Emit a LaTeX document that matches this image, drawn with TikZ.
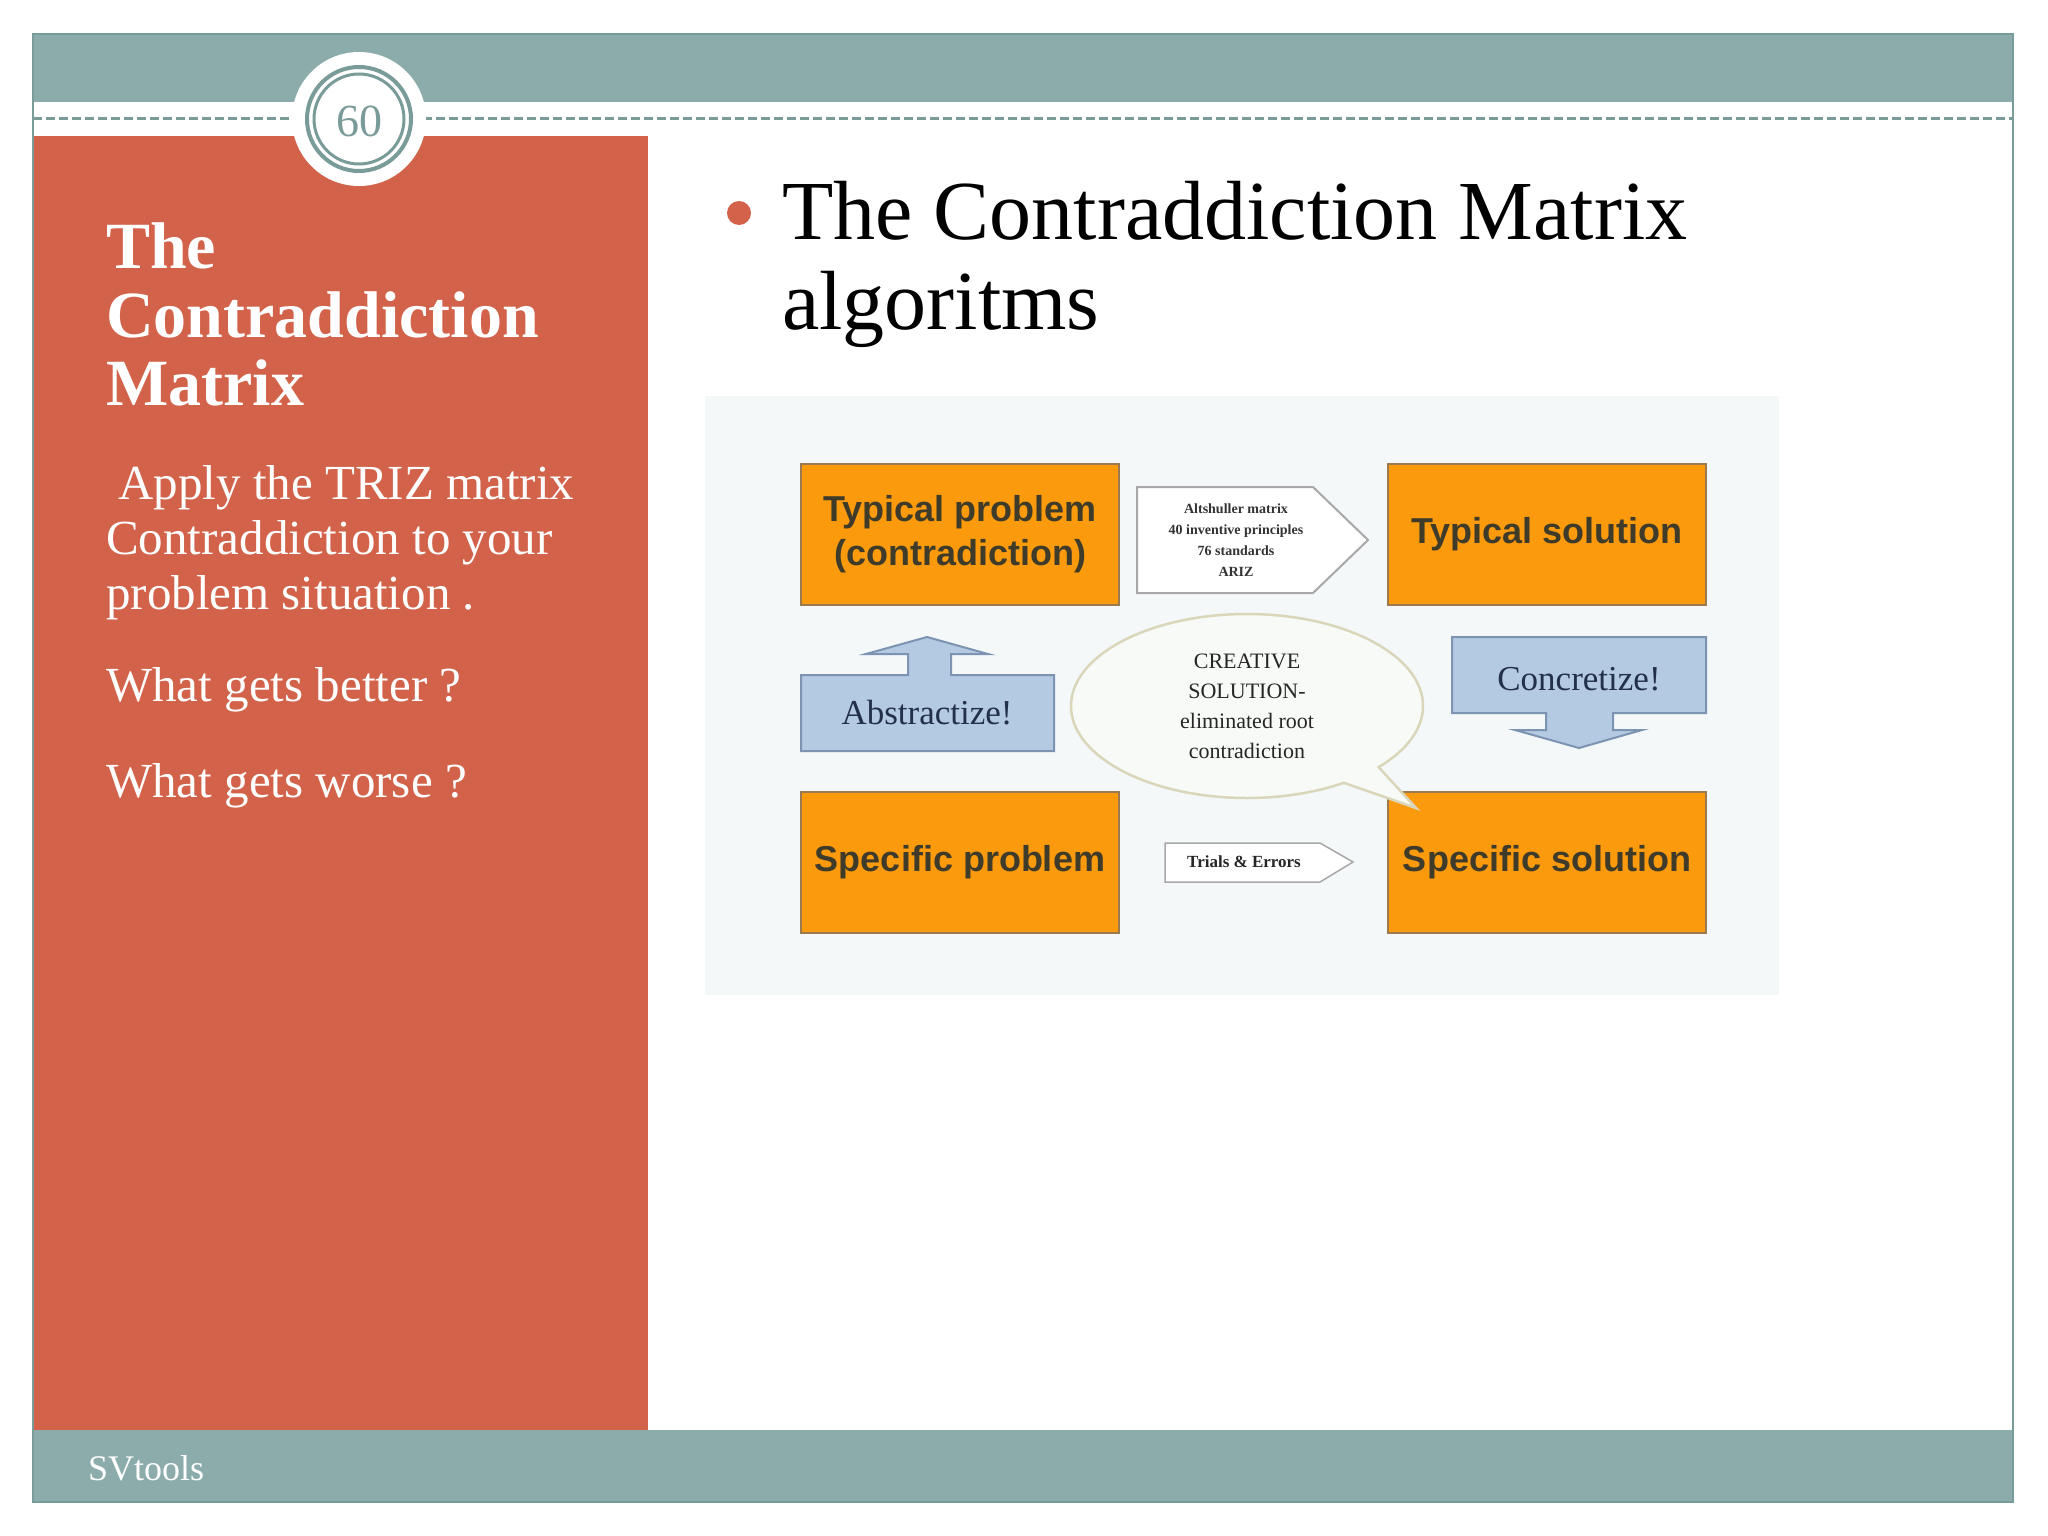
\documentclass[tikz,border=0pt]{standalone}
\usepackage{fontspec}
\setmainfont{Liberation Serif}
\newfontfamily\arialfont{Liberation Sans}
\usetikzlibrary{shapes.callouts,shapes.geometric}
\definecolor{teal1}{HTML}{8BACAA}
\definecolor{tealdark}{HTML}{7A9C99}
\definecolor{rust}{HTML}{D2634A}
\definecolor{orng}{HTML}{FB9A0C}
\definecolor{orngborder}{HTML}{9C7A50}
\definecolor{lblue}{HTML}{B4C9E2}
\definecolor{lblueborder}{HTML}{7C94B2}
\definecolor{diagbg}{HTML}{F4F8F9}
\definecolor{boxtext}{HTML}{3E3B2A}
\definecolor{navytext}{HTML}{22304A}
\definecolor{pentborder}{HTML}{A8A8A8}
\definecolor{ellborder}{HTML}{DAD6BA}
\definecolor{ellfill}{HTML}{F7FAF6}
\begin{document}
\begin{tikzpicture}[x=1pt,y=-1pt,
  obox/.style={draw=orngborder, fill=orng, line width=2, minimum width=318, minimum height=141,
    font=\arialfont\bfseries\fontsize{36}{44}\selectfont, text=boxtext, align=center, inner sep=0},
  lbshape/.style={draw=lblueborder, fill=lblue, line width=2},
  pent/.style={draw=pentborder, fill=white, line width=2},
  lefttxt/.style={anchor=base west, text=white, font=\fontsize{49}{55}\selectfont, inner sep=0},
  lefttitle/.style={anchor=base west, text=white, font=\bfseries\fontsize{66}{68}\selectfont, inner sep=0},
  headtxt/.style={anchor=base west, text=black, font=\fontsize{84}{90}\selectfont, inner sep=0}]
\useasboundingbox (0,0) rectangle (2048,1536);
\fill[white] (0,0) rectangle (2048,1536);

% frame bands
\fill[teal1] (33,34) rectangle (2013,102);
\fill[rust] (33,136) rectangle (648,1430);
\fill[teal1] (33,1430) rectangle (2013,1502);
\draw[tealdark, line width=1.5] (33,34) rectangle (2013,1502);
\draw[tealdark, line width=3, dash pattern=on 9 off 4] (33,119) -- (2013,119);

% page number badge
\fill[white] (359,119) circle (67);
\draw[tealdark, line width=4] (359,119) circle (52);
\draw[tealdark, line width=3] (359,119) circle (45);
\node[text=tealdark, font=\fontsize{46}{46}\selectfont] (pg) at (359,121) {60};

% left panel text
\node[lefttitle] (lt1) at (106,268) {The};
\node[lefttitle] (lt2) at (106,337) {Contraddiction};
\node[lefttitle] (lt3) at (106,405) {Matrix};
\node[lefttxt] (b1) at (106,499) {\ Apply the TRIZ matrix};
\node[lefttxt] (b2) at (106,554) {Contraddiction to your};
\node[lefttxt] (b3) at (106,609) {problem situation .};
\node[lefttxt] (b4) at (106,701) {What gets better ?};
\node[lefttxt] (b5) at (106,797) {What gets worse ?};

% footer
\node[anchor=base west, text=white, font=\fontsize{36}{40}\selectfont, inner sep=0] (ft) at (88,1480) {SVtools};

% headline
\fill[rust] (739,213) circle (12);
\node[headtxt] (h1) at (782,239) {The Contraddiction Matrix};
\node[headtxt] (h2) at (782,329) {algoritms};

% diagram background
\fill[diagbg] (705,396) rectangle (1779,995);

% orange boxes
\node[obox] (tp) at (960,534.5) {Typical problem\\(contradiction)};
\node[obox] (ts) at (1547,534.5) {Typical solution};
\node[obox] (spb) at (960,862.5) {Specific problem};
\node[obox] (sps) at (1547,862.5) {Specific solution};

% abstractize callout (up arrow)
\draw[lbshape] (801,675) -- (908,675) -- (908,654) -- (866,654) -- (927,637) -- (988,654)
  -- (951,654) -- (951,675) -- (1054,675) -- (1054,751) -- (801,751) -- cycle;
\node[text=navytext, font=\fontsize{35}{40}\selectfont] (abs) at (927,713) {Abstractize!};

% concretize callout (down arrow)
\draw[lbshape] (1452,637) -- (1706,637) -- (1706,713) -- (1613,713) -- (1613,730) -- (1642,730)
  -- (1579,748) -- (1515,730) -- (1546,730) -- (1546,713) -- (1452,713) -- cycle;
\node[text=navytext, font=\fontsize{35}{40}\selectfont] (con) at (1579,679) {Concretize!};

% Altshuller pentagon arrow
\draw[pent] (1137,487) -- (1313,487) -- (1368,540) -- (1313,593) -- (1137,593) -- cycle;
\node[align=center, font=\bfseries\fontsize{14}{21}\selectfont, text=black!80] (alt) at (1236,540)
  {Altshuller matrix\\40 inventive principles\\76 standards\\ARIZ};

% Trials & errors arrow
\draw[pent, line width=1.5] (1165,843) -- (1320,843) -- (1353,862) -- (1320,882) -- (1165,882) -- cycle;
\node[font=\bfseries\fontsize{17}{20}\selectfont, text=black!85] (tri) at (1244,862) {Trials \& Errors};

% creative solution callout
\node[ellipse callout, draw=ellborder, fill=ellfill, line width=2.5, minimum width=352, minimum height=184,
  inner sep=0, callout absolute pointer={(1416,808)}, align=center,
  font=\fontsize{22}{30}\selectfont, text=black!85] (cre) at (1247,706)
  {CREATIVE\\SOLUTION-\\eliminated root\\contradiction};
\end{tikzpicture}
\end{document}
